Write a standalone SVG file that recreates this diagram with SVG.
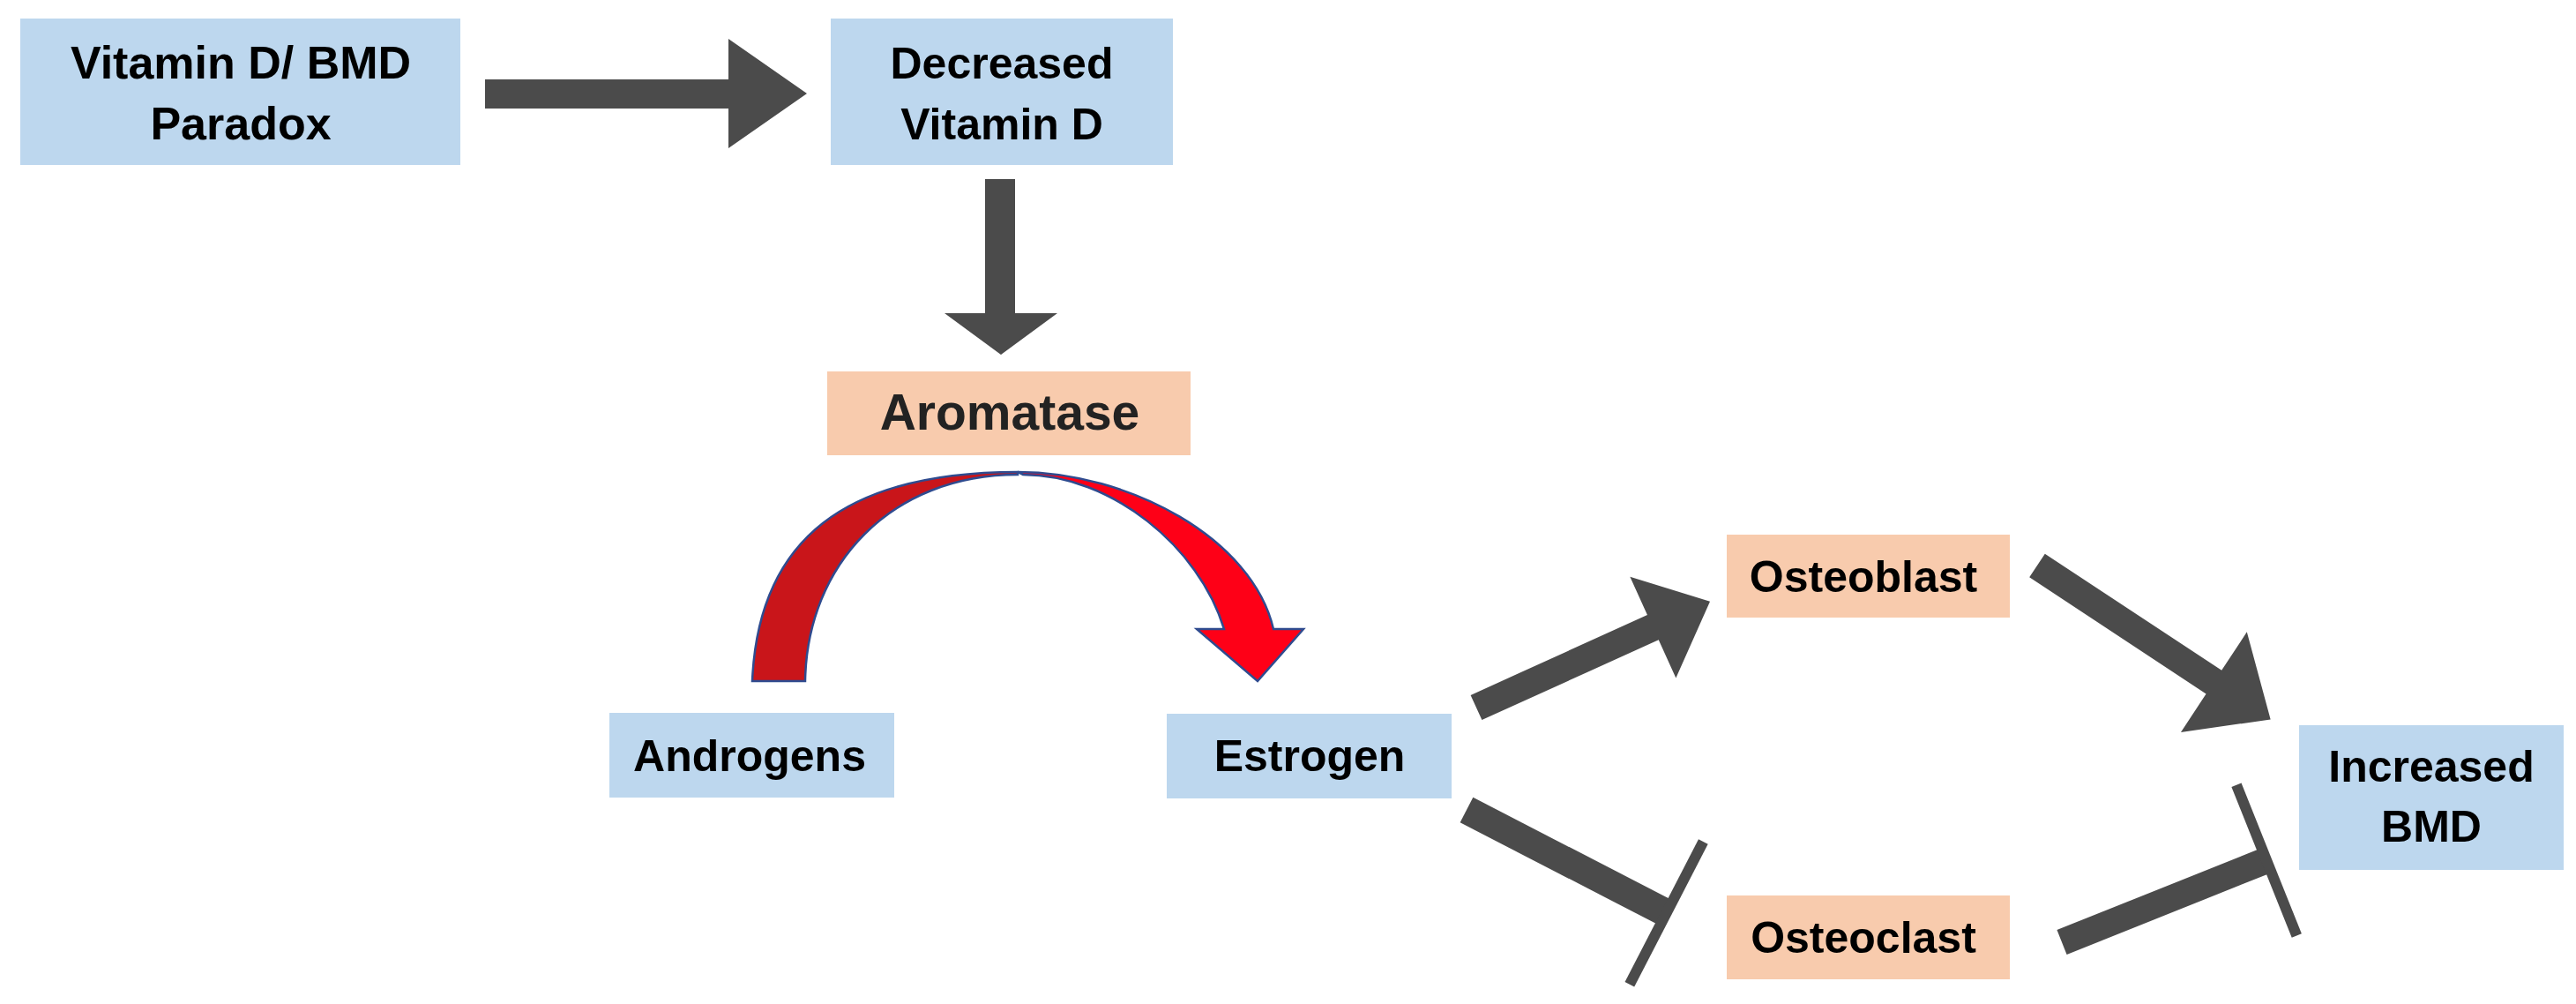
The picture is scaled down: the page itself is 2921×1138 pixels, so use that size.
<svg xmlns="http://www.w3.org/2000/svg" width="2921" height="1138" viewBox="0 0 2921 1138">
  <style>
    .blue { fill: #BDD7EE; }
    .peach { fill: #F8CBAD; }
    .t { font-family: "Liberation Sans", Arial, sans-serif; font-weight: bold; font-size: 50px; fill: #000; text-anchor: middle; }
    .ta { font-family: "Liberation Sans", Arial, sans-serif; font-weight: bold; font-size: 57px; fill: #222; text-anchor: middle; }
    .conn { fill: #4B4B4B; }
    .arcL { fill: #C9151A; stroke: #2F4B8F; stroke-width: 2.5; stroke-linejoin: miter; }
    .arcR { fill: #FE0017; stroke: #2F4B8F; stroke-width: 2.5; stroke-linejoin: miter; }
  </style>
  <rect width="2921" height="1138" fill="#FFFFFF"/>

  <g id="connectors">
    <polygon class="conn" points="550,90 826,90 826,44 915,106 826,168 826,123 550,123"/>
    <polygon class="conn" points="1117,203 1151,203 1151,355 1199,355 1135,402 1071,355 1117,355"/>
    <path class="arcL" d="M 853,772 C 860,610 960,535 1154,535 L 1154,538 C 1010,538 915,640 913,772 Z"/>
    <path class="arcR" d="M 1154,535 C 1280,535 1420,610 1444,713 L 1478,713 L 1426,772 L 1357,713 L 1388,713 C 1360,620 1260,538 1160,538 Z"/>
    <polygon class="conn" transform="translate(1674,802) rotate(-24.4)" points="0,-15.5 220,-15.5 220,-63 291,0 220,63 220,15.5 0,15.5"/>
    <polygon class="conn" transform="translate(2310,641) rotate(33.4)" points="0,-16 240,-16 240,-68 317,0 240,68 240,16 0,16"/>
    <g transform="translate(1663,918) rotate(27.3)">
      <rect class="conn" x="0" y="-16" width="252" height="32"/>
      <rect class="conn" x="249" y="-91" width="12" height="182"/>
    </g>
    <g transform="translate(2338,1068) rotate(-21.8)">
      <rect class="conn" x="0" y="-15" width="247" height="30"/>
      <rect class="conn" x="244" y="-92" width="12" height="184"/>
    </g>
  </g>

  <g id="node-paradox">
    <rect class="blue" x="23" y="21" width="499" height="166"/>
    <text class="t" x="273" y="89" style="font-size:52px">Vitamin D/ BMD</text>
    <text class="t" x="273" y="158" style="font-size:52px">Paradox</text>
  </g>
  <g id="node-decreased">
    <rect class="blue" x="942" y="21" width="388" height="166"/>
    <text class="t" x="1136" y="89">Decreased</text>
    <text class="t" x="1136" y="158">Vitamin D</text>
  </g>
  <g id="node-aromatase">
    <rect class="peach" x="938" y="421" width="412" height="95"/>
    <text class="ta" x="1145" y="487">Aromatase</text>
  </g>
  <g id="node-androgens">
    <rect class="blue" x="691" y="808" width="323" height="96"/>
    <text class="t" x="850" y="874">Androgens</text>
  </g>
  <g id="node-estrogen">
    <rect class="blue" x="1323" y="809" width="323" height="96"/>
    <text class="t" x="1485" y="874">Estrogen</text>
  </g>
  <g id="node-osteoblast">
    <rect class="peach" x="1958" y="606" width="321" height="94"/>
    <text class="t" x="2113" y="671">Osteoblast</text>
  </g>
  <g id="node-osteoclast">
    <rect class="peach" x="1958" y="1015" width="321" height="95"/>
    <text class="t" x="2113" y="1080">Osteoclast</text>
  </g>
  <g id="node-bmd">
    <rect class="blue" x="2607" y="822" width="300" height="164"/>
    <text class="t" x="2757" y="886">Increased</text>
    <text class="t" x="2757" y="954">BMD</text>
  </g>
</svg>
